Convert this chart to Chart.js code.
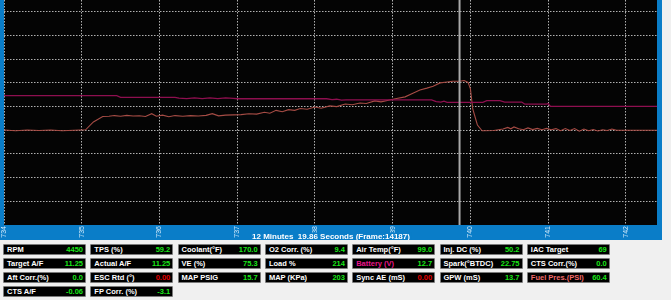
<!DOCTYPE html>
<html>
<head>
<meta charset="utf-8">
<script src="https://cdn.jsdelivr.net/npm/chart.js@4/dist/chart.umd.min.js"></script>
<style>
  body { margin:0; background:#f0f0f0; width:671px; height:300px; overflow:hidden; font-family:"Liberation Sans", Arial, sans-serif; }
  #wrap { position:absolute; left:0; top:0; width:662px; height:240px; background:#0a7dc8; }
  .gauge { position:absolute; width:81px; height:9px; background:#000; border:1px solid #7a7a7a; border-radius:1px;
           font-weight:bold; font-size:7.5px; line-height:9px; color:#fff; }
  .gauge .lbl { position:absolute; left:3px; top:0; white-space:nowrap; }
  .gauge .val { position:absolute; right:2px; top:0; color:#19e619; }
</style>
</head>
<body>
<div id="wrap"><canvas id="logChart" width="662" height="240"></canvas></div>
<div id="gauges"></div>
<script>
// time axis (seconds) and the two logged traces, in grid units
const xTicks = [734, 735, 736, 737, 738, 739, 740, 741, 742];
const yTicks = [1, 2, 3, 4, 5, 6, 7, 8, 9];
const cursorTime = 739.86;
const titleText = "12 Minutes  19.86 Seconds (Frame:14187)";

const redTimes = [734.00, 735.45, 735.50, 736.20, 736.25, 736.35, 736.45, 736.55, 736.65, 736.75, 736.85, 736.95,
  737.00, 738.15, 738.22, 738.28, 738.34, 738.40, 739.50, 739.56, 739.62, 739.66, 739.70, 740.16, 740.21, 740.38,
  740.44, 740.66, 740.70, 740.98, 741.00, 741.03, 742.40];
const redValues = [5.46, 5.46, 5.39, 5.39, 5.36, 5.34, 5.37, 5.34, 5.37, 5.34, 5.37, 5.35,
  5.33, 5.33, 5.29, 5.31, 5.27, 5.28, 5.28, 5.21, 5.19, 5.23, 5.18, 5.18, 5.25, 5.25,
  5.19, 5.19, 5.10, 5.10, 5.13, 5.01, 5.01];

const afrTimes = [734.00, 734.15, 734.30, 734.45, 734.60, 734.75, 734.90, 735.05, 735.15, 735.27, 735.35, 735.42,
  735.50, 735.58, 735.66, 735.74, 735.82, 735.90, 735.96, 736.04, 736.12, 736.20, 736.30, 736.40, 736.50, 736.60,
  736.68, 736.76, 736.85, 736.95, 737.05, 737.15, 737.25, 737.35, 737.42, 737.50, 737.58, 737.66, 737.74, 737.81,
  737.90, 738.00, 738.08, 738.19, 738.28, 738.39, 738.48, 738.58, 738.66, 738.77, 738.85, 738.96, 739.05, 739.16,
  739.26, 739.35, 739.44, 739.52, 739.61, 739.70, 739.77, 739.86, 739.92, 739.97, 740.00, 740.03, 740.06, 740.09,
  740.15, 740.30, 740.42, 740.48, 740.52, 740.56, 740.62, 740.68, 740.74, 740.80, 740.86, 740.92, 740.98, 741.04,
  741.10, 741.16, 741.22, 741.28, 741.34, 741.40, 741.46, 741.52, 741.58, 741.64, 741.70, 741.76, 741.82, 741.88,
  742.00, 742.40];
const afrValues = [4.01, 3.98, 4.01, 3.99, 4.01, 3.98, 4.00, 4.02, 4.35, 4.58, 4.59, 4.62,
  4.59, 4.63, 4.60, 4.61, 4.58, 4.70, 4.59, 4.64, 4.57, 4.62, 4.59, 4.62, 4.60, 4.63,
  4.70, 4.61, 4.64, 4.65, 4.66, 4.70, 4.68, 4.76, 4.72, 4.84, 4.78, 4.87, 4.84, 4.92,
  4.89, 4.98, 4.93, 5.03, 5.00, 5.11, 5.08, 5.15, 5.13, 5.24, 5.20, 5.28, 5.34, 5.41,
  5.56, 5.70, 5.78, 5.86, 6.00, 6.04, 6.07, 6.07, 6.10, 6.02, 5.75, 4.90, 4.56, 4.22,
  3.98, 3.99, 4.05, 4.12, 4.06, 4.14, 4.06, 4.02, 4.10, 4.03, 4.08, 4.02, 4.08, 4.02,
  4.07, 3.98, 4.07, 3.99, 4.07, 3.96, 4.05, 3.98, 4.03, 3.97, 4.02, 3.99, 4.05, 4.00,
  4.00, 4.00];

// gauge panel below the graph, row by row, 7 per row
const gaugeLabels = ["RPM", "TPS (%)", "Coolant(°F)", "O2 Corr. (%)", "Air Temp(°F)", "Inj. DC (%)", "IAC Target",
  "Target A/F", "Actual A/F", "VE (%)", "Load %", "Battery (V)", "Spark(°BTDC)", "CTS Corr.(%)",
  "Aft Corr.(%)", "ESC Rtd (°)", "MAP PSIG", "MAP (KPa)", "Sync AE (mS)", "GPW (mS)", "Fuel Pres.(PSI)",
  "CTS A/F", "FP Corr. (%)"];
const gaugeValues = ["4450", "59.2", "170.0", "9.4", "99.0", "50.2", "69",
  "11.25", "11.25", "75.3", "214", "12.7", "22.75", "0.0",
  "0.0", "0.00", "15.7", "203", "0.00", "13.7", "60.4",
  "-0.06", "-3.1"];
const labelColors = {"Battery (V)": "#e8168a", "Fuel Pres.(PSI)": "#f06a6a"};
const redValueLabels = ["ESC Rtd (°)", "Sync AE (mS)"];

function toPoints(xs, ys) {
    return xs.map((x, i) => ({x: x, y: ys[i]}));
}

function buildGauges() {
    let host = document.getElementById("gauges");
    gaugeLabels.forEach(function (label, i) {
        let col = i % 7, row = Math.floor(i / 7);
        let box = document.createElement("div");
        box.className = "gauge";
        box.style.left = (3 + col * 87.3) + "px";
        box.style.top = (244 + row * 14) + "px";
        let l = document.createElement("span");
        l.className = "lbl";
        l.textContent = label;
        if (labelColors[label]) l.style.color = labelColors[label];
        let v = document.createElement("span");
        v.className = "val";
        v.textContent = gaugeValues[i];
        if (redValueLabels.indexOf(label) >= 0) v.style.color = "#e00000";
        box.appendChild(l);
        box.appendChild(v);
        host.appendChild(box);
    });
}

// black plot background, cursor line and the frame title
const logPlugin = {
    id: "logPlugin",
    beforeDraw(chart) {
        let ctx = chart.ctx, a = chart.chartArea;
        ctx.save();
        ctx.fillStyle = "#040404";
        ctx.fillRect(a.left, a.top, a.right - a.left, a.bottom - a.top);
        ctx.restore();
    },
    afterDatasetsDraw(chart) {
        let ctx = chart.ctx, a = chart.chartArea;
        let x = chart.scales.x.getPixelForValue(cursorTime);
        ctx.save();
        ctx.strokeStyle = "#a9a9a9";
        ctx.lineWidth = 2;
        ctx.beginPath();
        ctx.moveTo(x, a.top);
        ctx.lineTo(x, a.bottom);
        ctx.stroke();
        ctx.restore();
    },
    afterDraw(chart) {
        let ctx = chart.ctx, a = chart.chartArea;
        ctx.save();
        ctx.font = "bold 8px 'Liberation Sans', Arial, sans-serif";
        let w = ctx.measureText(titleText).width;
        let cx = 331, cy = a.bottom + 11.5;
        ctx.fillStyle = "#0a7dc8";
        ctx.fillRect(cx - w / 2 - 2, cy - 4, w + 4, 8);
        ctx.fillStyle = "#ffffff";
        ctx.textAlign = "center";
        ctx.textBaseline = "middle";
        ctx.fillText(titleText, cx, cy);
        ctx.restore();
    }
};

buildGauges();

new Chart(document.getElementById("logChart").getContext("2d"), {
    type: "line",
    data: {
        datasets: [
            {
                data: toPoints(redTimes, redValues),
                borderColor: "#8e0f4f",
                borderWidth: 1.3,
                pointRadius: 0,
                tension: 0
            },
            {
                data: toPoints(afrTimes, afrValues),
                borderColor: "#a64c45",
                borderWidth: 1.1,
                pointRadius: 0,
                tension: 0
            }
        ]
    },
    options: {
        responsive: false,
        animation: false,
        layout: {padding: {left: 4, right: 5, top: 0, bottom: 0}},
        plugins: {legend: {display: false}, tooltip: {enabled: false}, title: {display: false}},
        scales: {
            x: {
                type: "linear",
                min: 734,
                max: 742.4,
                afterBuildTicks: s => { s.ticks = xTicks.map(v => ({value: v})); },
                afterFit: s => { s.height = 15; s.paddingLeft = 0; s.paddingRight = 0; },
                ticks: {
                    autoSkip: false, minRotation: 90, maxRotation: 90, padding: 1,
                    color: "#d5ebfa", font: {size: 7, family: "'Liberation Sans', Arial"},
                    callback: v => String(v)
                },
                grid: {color: "#b0b0b0", lineWidth: 1, drawTicks: false},
                border: {display: false, dash: [1.5, 1.5]}
            },
            y: {
                min: 0,
                max: 9.5,
                afterBuildTicks: s => { s.ticks = yTicks.map(v => ({value: v})); },
                afterFit: s => { s.width = 0; s.paddingTop = 0; s.paddingBottom = 0; },
                ticks: {display: false},
                grid: {color: "#b0b0b0", lineWidth: 1, drawTicks: false},
                border: {display: false, dash: [1.5, 1.5]}
            }
        }
    },
    plugins: [logPlugin]
});
</script>
</body>
</html>
